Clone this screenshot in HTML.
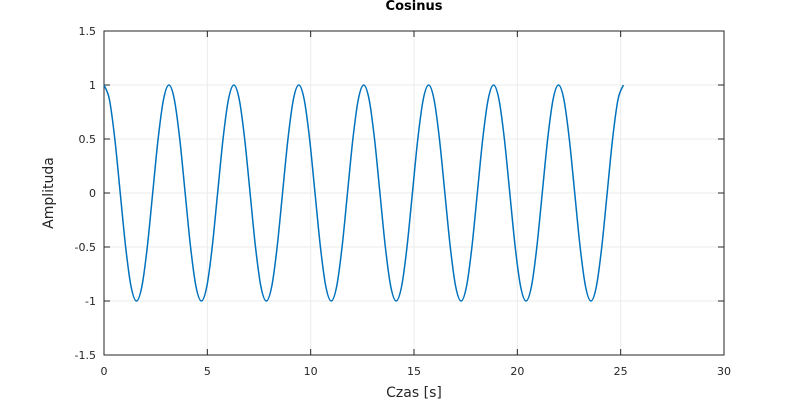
<!DOCTYPE html>
<html><head><meta charset="utf-8"><style>
body{margin:0;background:#fff;}
svg{display:block;font-family:"DejaVu Sans","Liberation Sans",sans-serif;}
</style></head><body>
<svg id="chart" width="800" height="400">
<rect width="800" height="400" fill="#fff"/>
<g id="grid"></g>
<rect x="104" y="31" width="620" height="324" fill="none" stroke="#262626" stroke-width="1"/>
<g id="ticks"></g>
<path id="line" fill="none" stroke="#0072BD" stroke-width="1.5"/>
<text x="414" y="10" text-anchor="middle" font-weight="bold" font-size="13" fill="#000">Cosinus</text>
<text x="414" y="397" text-anchor="middle" font-size="14" fill="#262626">Czas [s]</text>
<text transform="translate(53,193) rotate(-90)" text-anchor="middle" font-size="14" fill="#262626">Amplituda</text>
</svg>
<script>
const xTicks=[0,5,10,15,20,25,30];
const yTicks=[-1.5,-1,-0.5,0,0.5,1,1.5];
const yTickLabels=["-1.5","-1","-0.5","0","0.5","1","1.5"];
const timeStep=0.261799;
const amplitude=[1,0.866,0.5,0,-0.5,-0.866,-1,-0.866,-0.5,0,0.5,0.866,
1,0.866,0.5,0,-0.5,-0.866,-1,-0.866,-0.5,0,0.5,0.866,
1,0.866,0.5,0,-0.5,-0.866,-1,-0.866,-0.5,0,0.5,0.866,
1,0.866,0.5,0,-0.5,-0.866,-1,-0.866,-0.5,0,0.5,0.866,
1,0.866,0.5,0,-0.5,-0.866,-1,-0.866,-0.5,0,0.5,0.866,
1,0.866,0.5,0,-0.5,-0.866,-1,-0.866,-0.5,0,0.5,0.866,
1,0.866,0.5,0,-0.5,-0.866,-1,-0.866,-0.5,0,0.5,0.866,
1,0.866,0.5,0,-0.5,-0.866,-1,-0.866,-0.5,0,0.5,0.866,1];
const NS="http://www.w3.org/2000/svg";
function xS(v){return 104+(v-0)/30*620;}
function yS(v){return 193-v/1.5*162;}
const grid=document.getElementById('grid'),ticks=document.getElementById('ticks');
function mk(tag,attrs,parent){const e=document.createElementNS(NS,tag);for(const k in attrs)e.setAttribute(k,attrs[k]);parent.appendChild(e);return e;}
xTicks.forEach(v=>{
 const g=mk('line',{x1:xS(v),x2:xS(v),y1:31,y2:355,stroke:'#ebebeb'},grid);
 
 
 mk('line',{x1:xS(v),x2:xS(v),y1:355,y2:349,stroke:'#262626'},ticks);
 mk('line',{x1:xS(v),x2:xS(v),y1:31,y2:37,stroke:'#262626'},ticks);
 const t=mk('text',{x:xS(v),y:375,'text-anchor':'middle','font-size':11,fill:'#262626'},ticks);
 t.textContent=v;
 
 
});
yTicks.forEach((v,i)=>{
 const g=mk('line',{x1:104,x2:724,y1:yS(v),y2:yS(v),stroke:'#ebebeb'},grid);
 
 
 mk('line',{x1:104,x2:110,y1:yS(v),y2:yS(v),stroke:'#262626'},ticks);
 mk('line',{x1:718,x2:724,y1:yS(v),y2:yS(v),stroke:'#262626'},ticks);
 const t=mk('text',{x:96,y:yS(v)+4,'text-anchor':'end','font-size':11,fill:'#262626'},ticks);
 t.textContent=yTickLabels[i];
 
 
});
// Catmull-Rom smoothing through sampled points
const pts=amplitude.map((a,i)=>[xS(i*timeStep),yS(a)]);
let d='M'+pts[0][0].toFixed(2)+','+pts[0][1].toFixed(2);
for(let i=0;i<pts.length-1;i++){
 const p0=pts[Math.max(i-1,0)],p1=pts[i],p2=pts[i+1],p3=pts[Math.min(i+2,pts.length-1)];
 const c1=[p1[0]+(p2[0]-p0[0])/6,p1[1]+(p2[1]-p0[1])/6];
 const c2=[p2[0]-(p3[0]-p1[0])/6,p2[1]-(p3[1]-p1[1])/6];
 d+=' C'+c1.map(n=>n.toFixed(2))+' '+c2.map(n=>n.toFixed(2))+' '+p2.map(n=>n.toFixed(2));
}
document.getElementById('line').setAttribute('d',d);
</script>
</body></html>
